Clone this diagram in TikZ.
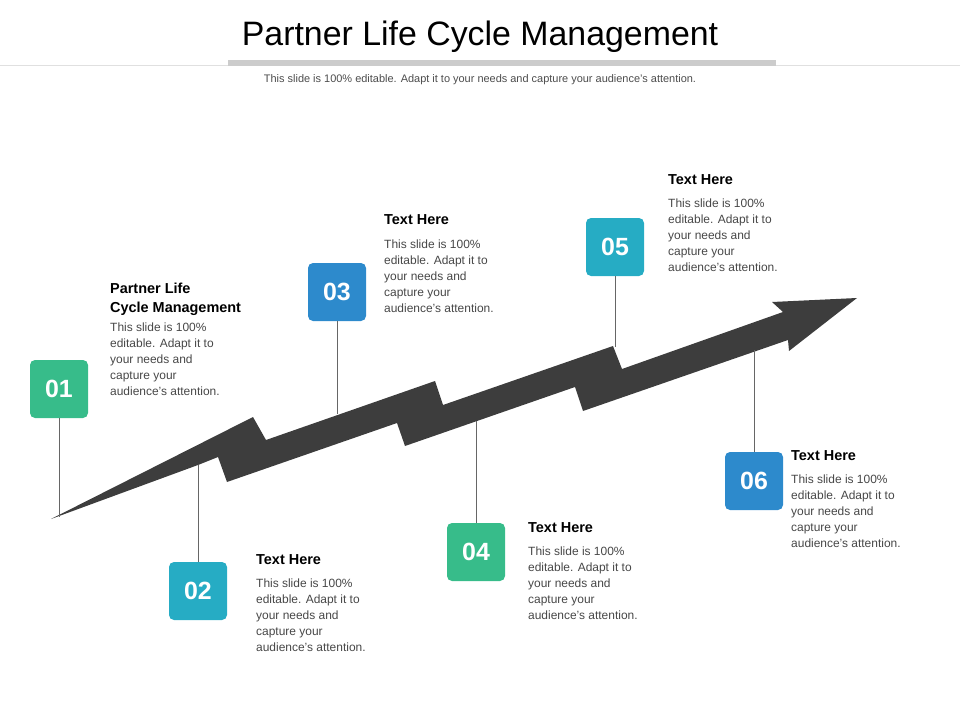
\documentclass[tikz,border=0pt]{standalone}
\usepackage{fontspec}
\setmainfont{Liberation Sans}
\begin{document}
\begin{tikzpicture}[x=1bp,y=-1bp,
  box/.style={rounded corners=5bp,minimum width=58bp,minimum height=58bp,inner sep=0,text=white,font=\fontsize{25}{25}\selectfont\bfseries},
  head/.style={anchor=north west,align=left,inner sep=0,font=\fontsize{14.5}{19}\selectfont\bfseries,text=black},
  body/.style={anchor=north west,align=left,inner sep=0,font=\fontsize{12}{16}\selectfont,text=black!72},
  con/.style={draw=black!60,line width=0.7bp}]
\definecolor{cg}{RGB}{55,188,138}
\definecolor{ct}{RGB}{38,172,196}
\definecolor{cb}{RGB}{45,138,204}
\useasboundingbox (0,0) rectangle (960,720);
\node[font=\fontsize{34}{34}\selectfont] (title) at (480,37) {Partner Life Cycle Management};
\fill[black!20] (228,60) rectangle (776,66);
\draw[black!12,line width=0.6bp] (0,65) -- (228,65) (776,65) -- (960,65);
\node[font=\fontsize{11}{11}\selectfont,text=black!70] (sub) at (480,80) {This slide is 100\% editable. Adapt it to your needs and capture your audience's attention.};
\fill[black!76] (51,519) -- (253,417) -- (266,440) -- (435,381) -- (443,405) -- (613,346) -- (622,369) -- (783,312) -- (772,302) -- (857,298) -- (789,351) -- (788,340) -- (583,411) -- (575,387) -- (405,446) -- (397,423) -- (227,482) -- (218,457) -- (198,465) -- cycle;
\node[box,fill=cg] (b1) at (59,389) {01};
\node[box,fill=ct] (b2) at (198,591) {02};
\node[box,fill=cb] (b3) at (337,292) {03};
\node[box,fill=cg] (b4) at (476,552) {04};
\node[box,fill=ct] (b5) at (615,247) {05};
\node[box,fill=cb] (b6) at (754,481) {06};
\coordinate (a1) at (59,517);
\coordinate (a2) at (198,465);
\coordinate (a3) at (337,414);
\coordinate (a4) at (476,421);
\coordinate (a5) at (615,347);
\coordinate (a6) at (754,350);
\foreach \i in {1,...,6} \draw[con] (b\i) -- (a\i);
\newcommand\bodytext{This slide is 100\%\\editable. Adapt it to\\your needs and\\capture your\\audience's attention.}
\node[head] (h1) at (110,283) {Partner Life\\Cycle Management};
\node[body] (t1) at (110,323) {\bodytext};
\node[head] (h2) at (256,554) {Text Here};
\node[body] (t2) at (256,579) {\bodytext};
\node[head] (h3) at (384,214) {Text Here};
\node[body] (t3) at (384,240) {\bodytext};
\node[head] (h4) at (528,522) {Text Here};
\node[body] (t4) at (528,547) {\bodytext};
\node[head] (h5) at (668,174) {Text Here};
\node[body] (t5) at (668,199) {\bodytext};
\node[head] (h6) at (791,450) {Text Here};
\node[body] (t6) at (791,475) {\bodytext};
\end{tikzpicture}
\end{document}
